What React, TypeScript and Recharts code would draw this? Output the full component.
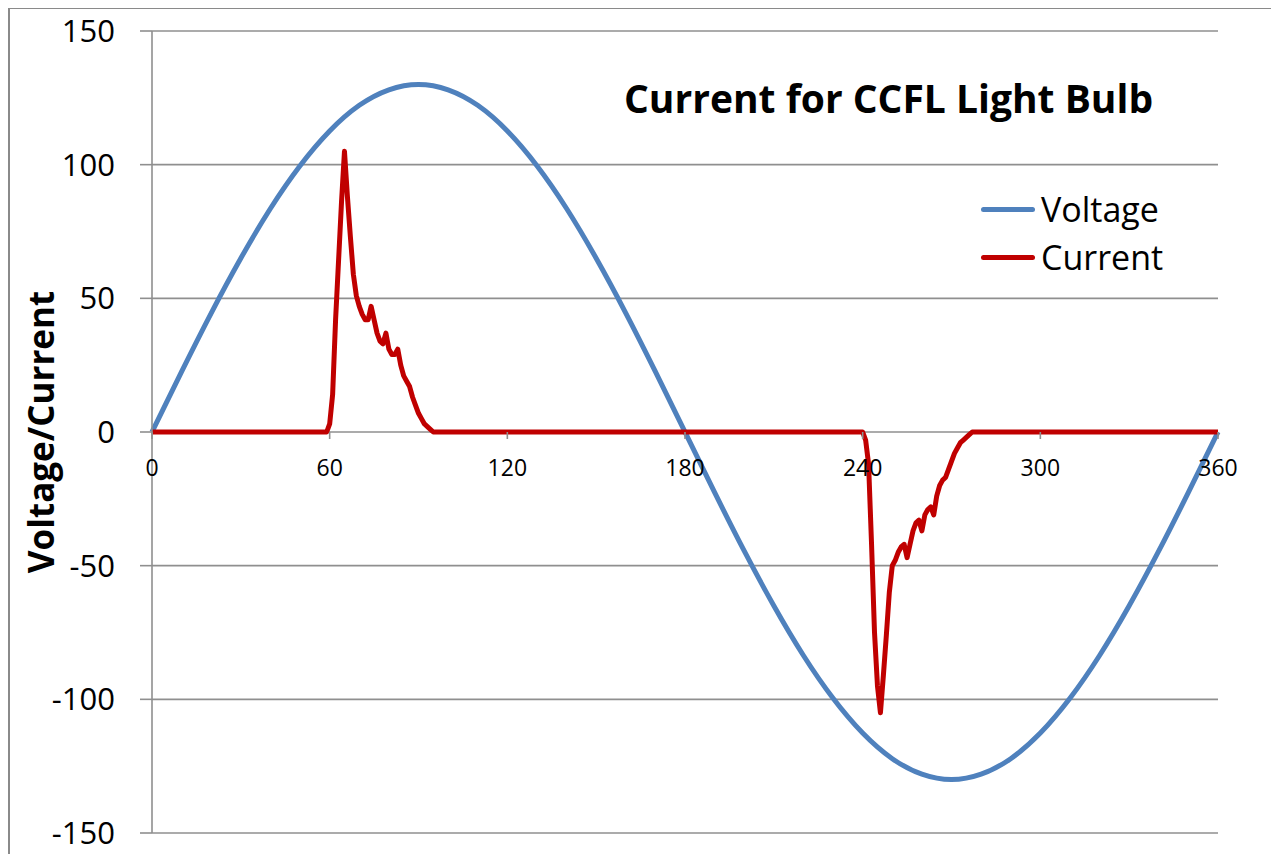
// Voltage and current of a CCFL bulb over one mains cycle (Recharts line chart).

import { LineChart, Line, XAxis, YAxis, CartesianGrid, Legend, ReferenceDot } from 'recharts';

// Phase angle in degrees for the voltage samples
const voltageDeg = [
  0, 10, 20, 30, 40, 50, 60, 70, 80, 90, 100, 110, 120, 130, 140, 150, 160, 170, 180,
  190, 200, 210, 220, 230, 240, 250, 260, 270, 280, 290, 300, 310, 320, 330, 340, 350, 360,
];
const voltageValues = [
  0, 22.6, 44.5, 65, 83.6, 99.6, 112.6, 122.2, 128, 130, 128, 122.2, 112.6, 99.6, 83.6, 65, 44.5, 22.6, 0,
  -22.6, -44.5, -65, -83.6, -99.6, -112.6, -122.2, -128, -130, -128, -122.2, -112.6, -99.6, -83.6, -65, -44.5, -22.6, 0,
];

// Current: flat with a spike after 60 degrees and another after 240 degrees
const currentDeg = [
  0, 59, 60, 61, 62, 63, 64, 65, 66, 67, 68, 69, 70, 71, 72, 73, 74, 75, 76, 77, 78, 79, 80,
  81, 82, 83, 84, 85, 86, 87, 88, 89, 90, 91, 92, 93, 94, 95,
  240, 241, 242, 243, 244, 245, 246, 247, 248, 249, 250, 251, 252, 253, 254, 255, 256, 257, 258,
  259, 260, 261, 262, 263, 264, 265, 266, 267, 268, 269, 270, 271, 272, 273, 274, 275, 276, 277, 360,
];
const currentValues = [
  0, 0, 3, 14, 42, 64, 86, 105, 88, 73, 59, 51, 47, 44, 42, 42, 47, 42, 37, 34, 33, 37, 31,
  29, 29, 31, 25, 21, 19, 17, 13, 10, 7, 5, 3, 2, 1, 0,
  0, -3, -12, -42, -75, -95, -105, -91, -76, -60, -50, -48, -45, -43, -42, -47, -42, -37, -34,
  -33, -37, -31, -29, -28, -31, -24, -20, -18, -17, -14, -11, -8, -6, -4, -3, -2, -1, 0, 0,
];

const xTicks = [0, 60, 120, 180, 240, 300, 360];
const yTicks = [-150, -100, -50, 0, 50, 100, 150];

const voltageData = voltageDeg.map((x, i) => ({ x, v: voltageValues[i] }));
const currentData = currentDeg.map((x, i) => ({ x, c: currentValues[i] }));

const FONT = "'Open Sans', 'Liberation Sans', sans-serif";
const GRID = '#8f8f8f';
const BLUE = '#4f81bd';
const RED = '#c00000';

// x axis sits on y = 0, so its ticks are drawn as reference dots on that line
function xTickShape(label: number) {
  return (props: any) => (
    <g>
      <line x1={props.cx} x2={props.cx} y1={props.cy} y2={props.cy + 7} stroke={GRID} strokeWidth={1.6} />
      <text
        x={props.cx}
        y={props.cy + 35}
        textAnchor="middle"
        dominantBaseline="central"
        fontFamily={FONT}
        fontSize={23}
        fill="#000"
      >
        {label}
      </text>
    </g>
  );
}

function renderLegend() {
  const items = [
    { name: 'Voltage', color: BLUE },
    { name: 'Current', color: RED },
  ];
  return (
    <div style={{ fontFamily: FONT }}>
      {items.map((it) => (
        <div key={it.name} style={{ display: 'flex', alignItems: 'center', height: 48 }}>
          <div style={{ width: 54, height: 5, borderRadius: 3, background: it.color }} />
          <span style={{ marginLeft: 6, fontSize: 34, color: '#000' }}>{it.name}</span>
        </div>
      ))}
    </div>
  );
}

function renderYLabel(props: any) {
  const vb = props.viewBox;
  const x = vb.x + 2;
  const y = vb.y + vb.height / 2;
  return (
    <text
      x={x}
      y={y}
      transform={`rotate(-90, ${x}, ${y})`}
      textAnchor="middle"
      fontFamily={FONT}
      fontWeight="bold"
      fontSize={35}
      fill="#000"
    >
      Voltage/Current
    </text>
  );
}

export default function App() {
  return (
    <div style={{ position: 'relative', width: 1270, height: 880 }}>
      <LineChart
        width={1270}
        height={880}
        margin={{ top: 23, right: 60, left: 44, bottom: 55 }}
      >
        <CartesianGrid vertical={false} stroke={GRID} strokeWidth={1.6} />
        <XAxis dataKey="x" type="number" domain={[0, 360]} ticks={xTicks} hide />
        <YAxis
          type="number"
          domain={[-150, 150]}
          ticks={yTicks}
          width={100}
          tickSize={12}
          tickMargin={25}
          axisLine={{ stroke: GRID, strokeWidth: 1.6 }}
          tickLine={{ stroke: GRID, strokeWidth: 1.6 }}
          tick={{ fontFamily: FONT, fontSize: 31, fill: '#000' }}
          label={{ content: renderYLabel }}
        />
        {xTicks.map((t) => (
          <ReferenceDot key={t} x={t} y={0} r={0} shape={xTickShape(t)} />
        ))}
        <Line
          data={voltageData}
          dataKey="v"
          name="Voltage"
          type="natural"
          stroke={BLUE}
          strokeWidth={5}
          dot={false}
          isAnimationActive={false}
        />
        <Line
          data={currentData}
          dataKey="c"
          name="Current"
          type="linear"
          stroke={RED}
          strokeWidth={5}
          strokeLinejoin="round"
          dot={false}
          isAnimationActive={false}
        />
        <Legend
          layout="vertical"
          align="center"
          verticalAlign="middle"
          content={renderLegend}
          wrapperStyle={{ left: 973, top: 177, width: 220, height: 96 }}
        />
      </LineChart>
      <div
        style={{
          position: 'absolute',
          left: 616,
          top: 70,
          fontFamily: FONT,
          fontWeight: 'bold',
          fontSize: 39,
          lineHeight: 1,
          whiteSpace: 'nowrap',
          color: '#000',
        }}
      >
        Current for CCFL Light Bulb
      </div>
      <div
        style={{
          position: 'absolute',
          left: 0,
          top: -1,
          width: 1269,
          height: 880,
          border: '2px solid #8a8a8a',
          boxSizing: 'border-box',
          pointerEvents: 'none',
        }}
      />
    </div>
  );
}
